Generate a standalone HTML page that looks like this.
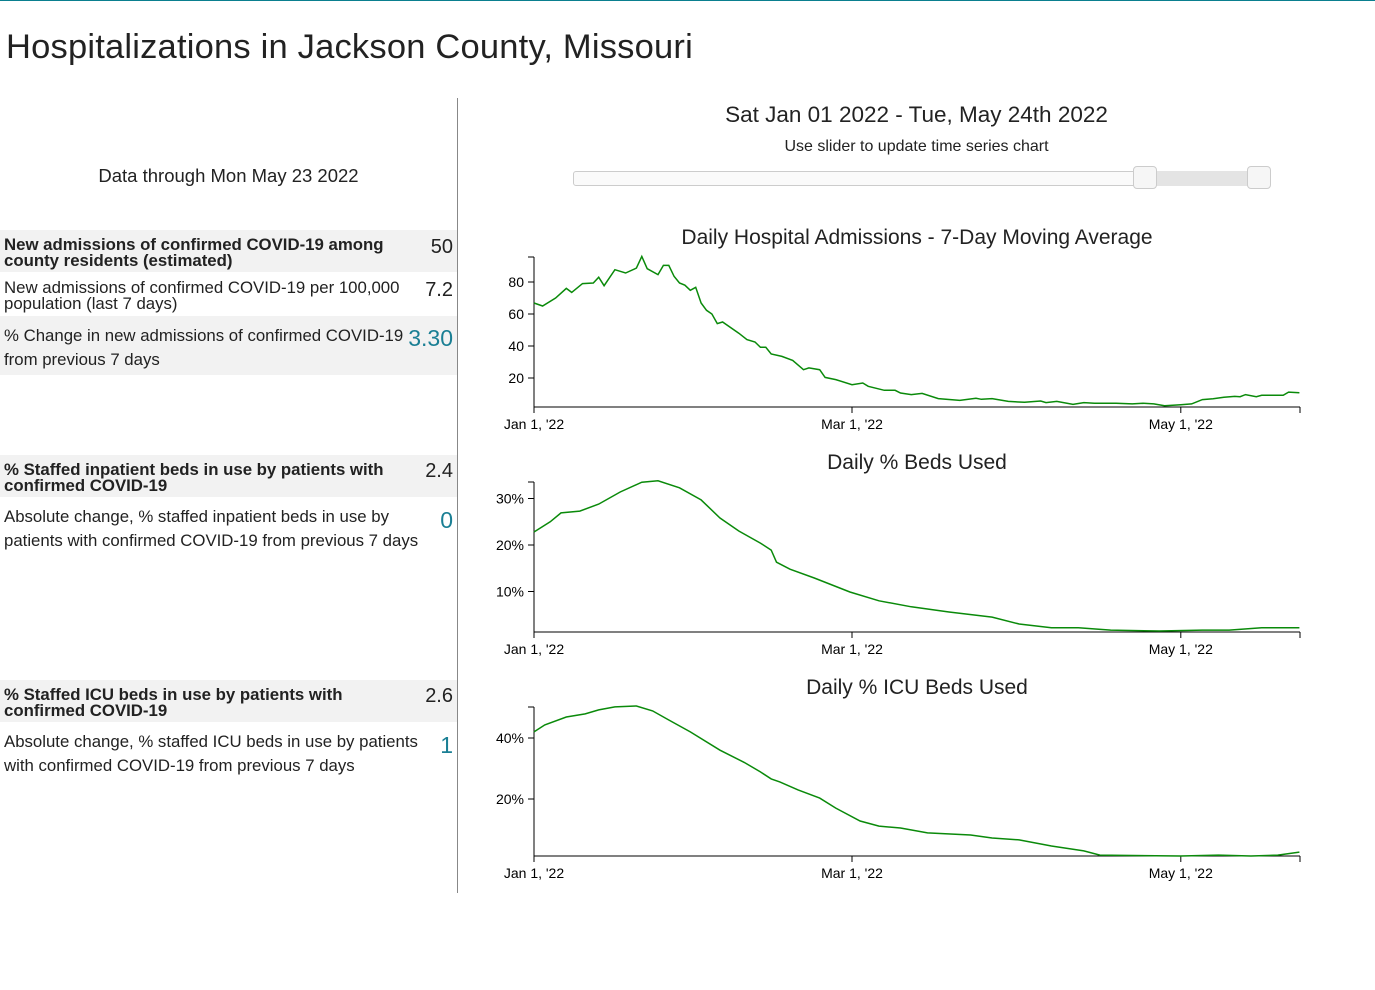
<!DOCTYPE html>
<html><head><meta charset="utf-8"><style>
body{margin:0;width:1375px;height:990px;background:#fff;font-family:"Liberation Sans",sans-serif;color:#222;position:relative;overflow:hidden}
.topline{position:absolute;left:0;top:0;width:1375px;height:1px;background:#0a7f8f}
h1{position:absolute;left:6px;top:28px;margin:0;font-weight:normal;font-size:34.5px;letter-spacing:0.2px;color:#222}
.abs{position:absolute}
.row{position:absolute;left:0;width:457px;box-sizing:border-box;padding:0 4px}
.gray{background:#f2f2f2}
.lbl{position:absolute;left:4px;font-size:16.8px;line-height:16px;white-space:nowrap}
.val{position:absolute;right:4px;font-size:20px}
.b{font-weight:bold}
.teal{color:#1a7f94;font-size:23px}
</style></head><body>
<div class="topline"></div>
<h1>Hospitalizations in Jackson County, Missouri</h1>
<div class="abs" style="left:457px;top:98px;width:1px;height:795px;background:#888"></div>
<div class="abs" style="left:0;width:457px;top:165px;text-align:center;font-size:18.5px">Data through Mon May 23 2022</div>

<div class="row gray" style="top:230px;height:42px"><div class="lbl b" style="top:7px">New admissions of confirmed COVID-19 among<br>county residents (estimated)</div><div class="val" style="top:6px">50</div></div>
<div class="row" style="top:272px;height:44px"><div class="lbl" style="top:8px">New admissions of confirmed COVID-19 per 100,000<br>population (last 7 days)</div><div class="val" style="top:7px">7.2</div></div>
<div class="row gray" style="top:316px;height:59px"><div class="lbl" style="top:8px;line-height:24px">% Change in new admissions of confirmed COVID-19<br>from previous 7 days</div><div class="val teal" style="top:9px">3.30</div></div>

<div class="row gray" style="top:455px;height:42px"><div class="lbl b" style="top:7px">% Staffed inpatient beds in use by patients with<br>confirmed COVID-19</div><div class="val" style="top:5px">2.4</div></div>
<div class="row" style="top:497px;height:60px"><div class="lbl" style="top:8px;line-height:24px">Absolute change, % staffed inpatient beds in use by<br>patients with confirmed COVID-19 from previous 7 days</div><div class="val teal" style="top:10px">0</div></div>

<div class="row gray" style="top:680px;height:42px"><div class="lbl b" style="top:7px">% Staffed ICU beds in use by patients with<br>confirmed COVID-19</div><div class="val" style="top:5px">2.6</div></div>
<div class="row" style="top:722px;height:60px"><div class="lbl" style="top:8px;line-height:24px">Absolute change, % staffed ICU beds in use by patients<br>with confirmed COVID-19 from previous 7 days</div><div class="val teal" style="top:10px">1</div></div>

<div class="abs" style="left:458px;width:917px;top:102px;text-align:center;font-size:22.5px">Sat Jan 01 2022 - Tue, May 24th 2022</div>
<div class="abs" style="left:458px;width:917px;top:138px;text-align:center;font-size:16px">Use slider to update time series chart</div>
<div class="abs" style="left:573px;top:171px;width:698px;height:15px;border:1px solid #ccc;border-radius:3px;background:#fafafa;box-sizing:border-box"></div>
<div class="abs" style="left:1145px;top:171px;width:114px;height:15px;background:#e4e4e4"></div>
<div class="abs" style="left:1133px;top:166px;width:24px;height:23px;border:1px solid #ccc;border-radius:4px;background:#f6f6f6;box-sizing:border-box"></div>
<div class="abs" style="left:1247px;top:166px;width:24px;height:23px;border:1px solid #ccc;border-radius:4px;background:#f6f6f6;box-sizing:border-box"></div>

<svg id="charts" class="abs" style="left:0;top:0" width="1375" height="990"></svg>
<script>
const xTickDays=[0,59,120];
const xTickLabels=["Jan 1, '22","Mar 1, '22","May 1, '22"];
const admDays=[0,1.6,4,6,7,9,11,12,13,15,17,19,20,21,23,24,25,26,27,28,29,30,31,32,33,34,35,38,39.5,41,42,43,44,46,48,50,51,53,54,56,59,61,62,65,67,68,70,72,75,79,82,83,85,88,91,94,95,97,100,102,104,108,111,113,115,117,120,122,124,126,128,130,131,132,134,135,137,139,140,142];
const admVals=[66.9,65,70,76,73.5,79,79.4,83,77.7,87.7,85.6,88.7,96,88.3,84.6,90.4,90.4,83.5,79.4,78,74.8,76.7,66.9,62.3,60,54,55,48,44,42.5,39.2,39.2,35,33.5,31,25.2,26.3,25.2,20.4,19,15.8,16.9,14.8,12.3,12.3,10.6,9.6,10.4,7.1,6,7.3,6.7,7.1,5.4,4.8,5.6,4.6,5.4,3.5,4.6,4.2,4.2,3.8,4.2,3.8,2.7,3.3,3.8,6.5,7,8,8.5,8.3,9.6,8.3,9.2,9.2,9.2,11.2,10.8];
const admTicks=[20,40,60,80];
const bedDays=[0,3,5,8.5,12,16,20,23,27,31,34.5,38,42,44,45,47.5,52,58.6,64,70,77,85,90,96,101,107,116,124,129,135,142];
const bedVals=[22.8,25,26.9,27.3,28.8,31.4,33.5,33.8,32.3,29.7,25.8,23,20.4,18.9,16.3,14.8,12.9,9.9,8,6.7,5.6,4.5,3,2.2,2.2,1.7,1.5,1.7,1.7,2.2,2.2];
const bedTicks=[10,20,30];
const icuDays=[0,2,6,9.5,12,15,19,22,25,29,34.5,39,42,44,45.6,49,53,56,60.5,64,68,73,81,85,90,96,102,105,120,127,133,138,142];
const icuVals=[42,44.3,46.9,47.9,49.2,50.2,50.5,48.9,45.9,42,36,32,28.9,26.6,25.6,23,20.3,17,12.8,11.1,10.5,8.9,8.2,7.2,6.6,4.6,3,1.6,1.3,1.6,1.3,1.6,2.6];
const icuTicks=[20,40];

const svg=document.getElementById('charts');
const NS='http://www.w3.org/2000/svg';
function mk(tag,attrs){const e=document.createElementNS(NS,tag);for(const k in attrs)e.setAttribute(k,attrs[k]);svg.appendChild(e);return e;}
const x0=534,pxDay=5.39,xEnd=1300;
function xs(d){return x0+d*pxDay;}
function chart(key,title,titleY,days,vals,ticks,zeroY,pxU,axisY,topY,suffix){
  const ys=v=>zeroY-v*pxU;
  const t=mk('text',{x:917,y:titleY,'text-anchor':'middle','font-size':21,fill:'#222'});
  t.textContent=title;
  
  
  const ya=mk('line',{x1:x0,x2:x0,y1:topY,y2:axisY,stroke:'#000'});
  
  
  const xa=mk('line',{x1:x0,x2:xEnd,y1:axisY,y2:axisY,stroke:'#000'});
  
  
  mk('line',{x1:x0-6,x2:x0,y1:topY,y2:topY,stroke:'#000'});
  mk('line',{x1:xEnd,x2:xEnd,y1:axisY,y2:axisY+6,stroke:'#000'});
  ticks.forEach(v=>{
    const y=ys(v);
    mk('line',{x1:x0-6,x2:x0,y1:y,y2:y,stroke:'#000'});
    const l=mk('text',{x:x0-10,y:y+5,'text-anchor':'end','font-size':14,fill:'#000'});
    l.textContent=v+suffix;
    
    
  });
  xTickDays.forEach((d,i)=>{
    const x=xs(d);
    mk('line',{x1:x,x2:x,y1:axisY,y2:axisY+6,stroke:'#000'});
    const l=mk('text',{x:x,y:axisY+22,'text-anchor':'middle','font-size':14,fill:'#000'});
    l.textContent=xTickLabels[i];
    
    
  });
  const p=mk('path',{d:days.map((d,i)=>(i?'L':'M')+xs(d).toFixed(1)+','+ys(vals[i]).toFixed(1)).join(''),fill:'none',stroke:'#0a8a0a','stroke-width':1.5});
  
  
}
chart('admissions','Daily Hospital Admissions - 7-Day Moving Average',244,admDays,admVals,admTicks,410,1.6,407,257,'');
chart('beds','Daily % Beds Used',469,bedDays,bedVals,bedTicks,638,4.65,632,482,'%');
chart('icu','Daily % ICU Beds Used',694,icuDays,icuVals,icuTicks,860,3.05,856,707,'%');
</script>
</body></html>
